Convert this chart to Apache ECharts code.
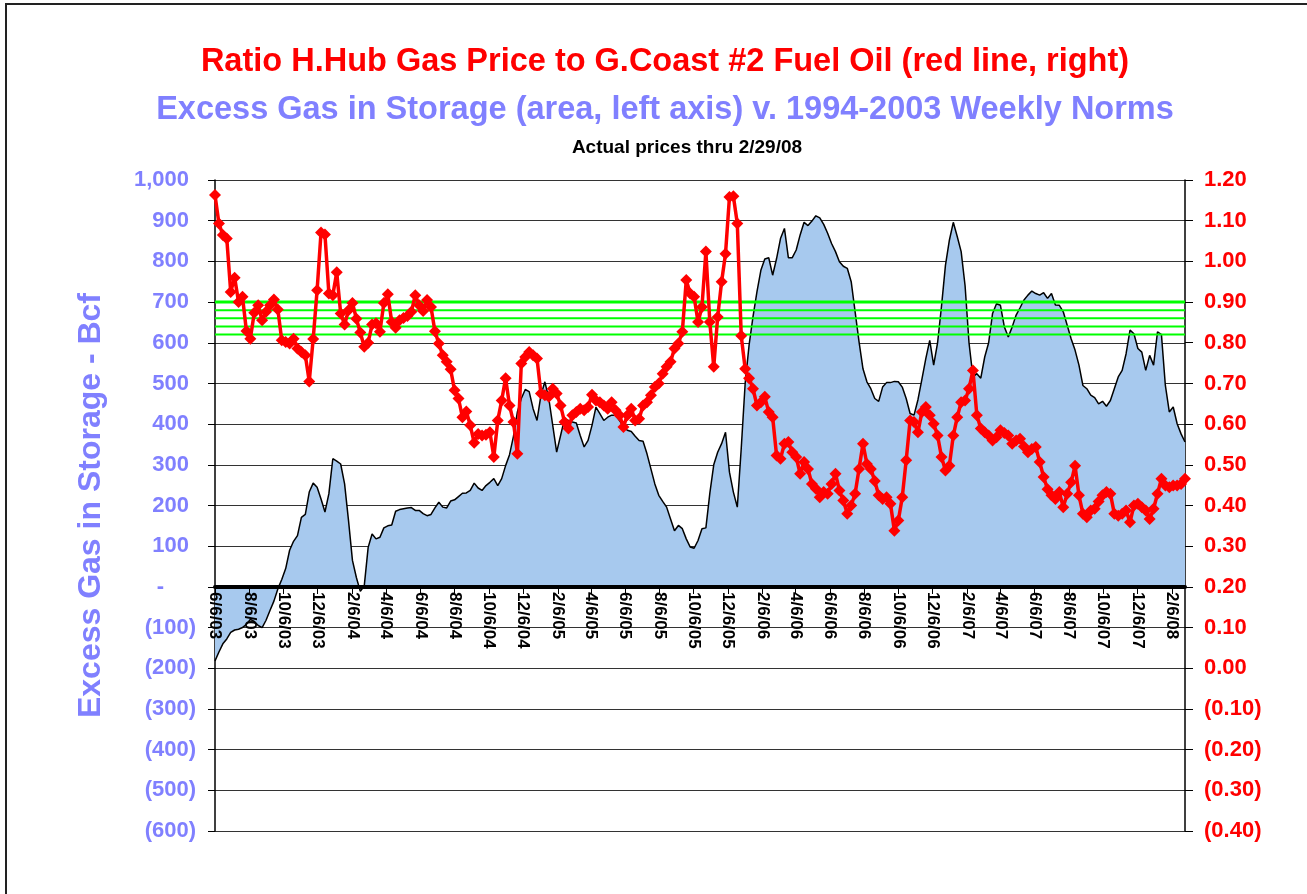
<!DOCTYPE html>
<html>
<head>
<meta charset="utf-8">
<title>Gas storage vs price ratio</title>
<script src="https://cdn.jsdelivr.net/npm/echarts@6.0.0/dist/echarts.min.js"></script>
<style>
  html, body { margin: 0; padding: 0; background: #fff; }
  #chart { width: 1307px; height: 894px; }
</style>
</head>
<body>
<div id="chart"></div>
<script>
// weekly data, first week 6/6/03, last week 2/29/08
const firstWeek = [2003, 5, 6];

// excess gas in storage vs 1994-2003 norms, Bcf (left axis)
const storage = [
  -182, -160, -140, -128, -112, -106, -104, -100, -92, -80,
  -85, -95, -100, -82, -58, -35, -5, 18, 45, 90,
  112, 126, 171, 178, 233, 255, 245, 216, 184, 229,
  315, 309, 302, 253, 163, 65, 23, -11, 2, 97,
  130, 118, 122, 145, 150, 152, 186, 190, 192, 194,
  195, 188, 188, 180, 175, 178, 194, 208, 196, 194,
  211, 214, 222, 230, 231, 237, 255, 243, 237, 249,
  257, 266, 249, 266, 298, 325, 370, 430, 463, 485,
  480, 438, 409, 471, 504, 463, 397, 331, 372, 413,
  409, 405, 403, 372, 344, 360, 397, 442, 426, 409,
  417, 422, 422, 409, 393, 385, 382, 370, 360, 358,
  327, 290, 253, 225, 210, 196, 167, 138, 151, 143,
  118, 98, 95, 114, 143, 145, 230, 300, 331, 352,
  380, 282, 233, 196, 340, 500, 594, 664, 725, 778,
  806, 809, 766, 807, 856, 881, 809, 809, 828, 865,
  896, 888, 899, 912, 907, 891, 869, 844, 824, 799,
  788, 783, 750, 676, 602, 536, 504, 487, 463, 456,
  491, 502, 502, 505, 504, 491, 463, 426, 422, 460,
  510, 561, 606, 545, 600, 690, 790, 852, 896, 861,
  824, 740, 600, 516, 524, 513, 565, 600, 672, 696,
  692, 639, 614, 639, 668, 686, 705, 717, 727, 721,
  717, 723, 709, 721, 693, 692, 676, 643, 610, 582,
  545, 495, 487, 471, 465, 450, 456, 444, 458, 487,
  516, 532, 573, 631, 622, 586, 577, 532, 569, 545,
  627, 620, 495, 430, 442, 401, 376, 356
];

// Henry Hub gas / Gulf Coast #2 fuel oil price ratio (right axis)
const ratio = [
  1.163, 1.093, 1.065, 1.056, 0.925, 0.960, 0.900, 0.913, 0.829, 0.810,
  0.874, 0.892, 0.855, 0.876, 0.892, 0.906, 0.882, 0.806, 0.802, 0.798,
  0.810, 0.786, 0.777, 0.769, 0.705, 0.809, 0.929, 1.071, 1.066, 0.921,
  0.917, 0.973, 0.872, 0.845, 0.880, 0.898, 0.859, 0.825, 0.790, 0.800,
  0.845, 0.848, 0.827, 0.898, 0.919, 0.851, 0.837, 0.855, 0.861, 0.866,
  0.876, 0.917, 0.892, 0.878, 0.905, 0.888, 0.828, 0.798, 0.769, 0.753,
  0.735, 0.683, 0.663, 0.617, 0.631, 0.597, 0.554, 0.576, 0.572, 0.574,
  0.580, 0.519, 0.609, 0.658, 0.713, 0.646, 0.605, 0.527, 0.749, 0.765,
  0.777, 0.769, 0.761, 0.675, 0.671, 0.667, 0.687, 0.675, 0.646, 0.605,
  0.589, 0.622, 0.630, 0.638, 0.634, 0.642, 0.672, 0.658, 0.654, 0.646,
  0.638, 0.654, 0.634, 0.622, 0.593, 0.622, 0.638, 0.609, 0.613, 0.646,
  0.654, 0.671, 0.691, 0.700, 0.724, 0.741, 0.753, 0.786, 0.798, 0.827,
  0.954, 0.921, 0.913, 0.851, 0.888, 1.024, 0.851, 0.741, 0.863, 0.950,
  1.019, 1.158, 1.160, 1.093, 0.817, 0.736, 0.713, 0.687, 0.646, 0.654,
  0.667, 0.630, 0.617, 0.523, 0.515, 0.552, 0.556, 0.531, 0.519, 0.478,
  0.507, 0.490, 0.453, 0.441, 0.420, 0.433, 0.429, 0.453, 0.478, 0.437,
  0.412, 0.380, 0.400, 0.429, 0.490, 0.552, 0.502, 0.490, 0.460, 0.425,
  0.416, 0.420, 0.404, 0.338, 0.363, 0.420, 0.511, 0.609, 0.605, 0.580,
  0.630, 0.642, 0.622, 0.601, 0.572, 0.519, 0.486, 0.498, 0.572, 0.617,
  0.654, 0.658, 0.687, 0.732, 0.622, 0.589, 0.580, 0.572, 0.560, 0.568,
  0.585, 0.578, 0.572, 0.552, 0.560, 0.564, 0.545, 0.531, 0.539, 0.544,
  0.507, 0.470, 0.440, 0.425, 0.416, 0.433, 0.396, 0.429, 0.457, 0.498,
  0.425, 0.380, 0.371, 0.388, 0.392, 0.410, 0.425, 0.433, 0.429, 0.380,
  0.375, 0.380, 0.388, 0.359, 0.400, 0.404, 0.396, 0.388, 0.367, 0.392,
  0.429, 0.466, 0.449, 0.445, 0.449, 0.449, 0.453, 0.466
];

// green reference band (left axis units)
const greenLevels = [700, 680, 660, 640, 620];

const tickLabels = [
  '6/6/03', '8/6/03', '10/6/03', '12/6/03', '2/6/04', '4/6/04', '6/6/04',
  '8/6/04', '10/6/04', '12/6/04', '2/6/05', '4/6/05', '6/6/05', '8/6/05',
  '10/6/05', '12/6/05', '2/6/06', '4/6/06', '6/6/06', '8/6/06', '10/6/06',
  '12/6/06', '2/6/07', '4/6/07', '6/6/07', '8/6/07', '10/6/07', '12/6/07',
  '2/6/08'
];

const FONT = "'Liberation Sans', Arial, sans-serif";
const BLUE_TXT = '#8080FF';
const DAY = 24 * 3600 * 1000;

// plot box, px
const gridTop = 180;
const gridBottom = 63;
const plotHeight = 894 - gridTop - gridBottom;
const leftMin = -600;
const leftMax = 1000;

// x is measured in weeks since the first data week
const t0 = new Date(firstWeek[0], firstWeek[1], firstWeek[2]).getTime();
const lastWeek = storage.length - 1;

const tickWeeks = tickLabels.map((s) => {
  const p = s.split('/');
  const t = new Date(2000 + Number(p[2]), Number(p[0]) - 1, Number(p[1])).getTime();
  return Math.round((t - t0) / DAY) / 7;
});

const leftLabel = (v) => {
  if (v === 0) return '{z|-}';
  if (v < 0) return '{n|(' + (-v).toLocaleString('en-US') + ')}';
  return '{p|' + v.toLocaleString('en-US') + '}';
};

const rightLabel = (v) => {
  const r = Math.round(v * 100) / 100;
  if (r < -0.001) return '(' + (-r).toFixed(2) + ')';
  return Math.abs(r).toFixed(2);
};

// the date axis sits on the zero line of the left axis
const zeroOffset = -Math.round(plotHeight * (0 - leftMin) / (leftMax - leftMin));

let greenSeries = greenLevels.map((lvl, i) => ({
  type: 'line',
  yAxisIndex: 0,
  data: [[0, lvl], [lastWeek, lvl]],
  symbol: 'none',
  silent: true,
  z: 3,
  lineStyle: { color: '#00FF00', width: i === 0 ? 3 : 2 }
}));

let myChart = echarts.init(document.getElementById('chart'), null, { renderer: 'canvas' });

let option = {
  animation: false,
  backgroundColor: '#fff',
  graphic: [
    {
      type: 'rect', silent: true,
      shape: { x: 6, y: 4, width: 1320, height: 910 },
      style: { fill: 'none', stroke: '#222', lineWidth: 2 }
    },
    {
      type: 'text', silent: true, x: 665, y: 62,
      style: {
        text: 'Ratio H.Hub Gas Price to G.Coast #2 Fuel Oil (red line, right)',
        x: 0, y: 0, textAlign: 'center', textVerticalAlign: 'middle',
        font: 'bold 32.5px ' + FONT, fill: '#FF0000'
      }
    },
    {
      type: 'text', silent: true, x: 665, y: 110,
      style: {
        text: 'Excess Gas in Storage (area, left axis) v. 1994-2003 Weekly Norms',
        x: 0, y: 0, textAlign: 'center', textVerticalAlign: 'middle',
        font: 'bold 32.5px ' + FONT, fill: BLUE_TXT
      }
    },
    {
      type: 'text', silent: true, x: 687, y: 148,
      style: {
        text: 'Actual prices thru 2/29/08',
        x: 0, y: 0, textAlign: 'center', textVerticalAlign: 'middle',
        font: 'bold 19px ' + FONT, fill: '#000'
      }
    }
  ],
  grid: { left: 215, right: 122, top: gridTop, bottom: gridBottom, containLabel: false },
  xAxis: {
    type: 'value',
    min: 0,
    max: lastWeek,
    offset: zeroOffset,
    z: 5,
    axisLine: { onZero: false, lineStyle: { color: '#000', width: 4 } },
    axisTick: { show: true, customValues: tickWeeks, length: 7, lineStyle: { color: '#000', width: 1 } },
    splitLine: { show: false },
    axisLabel: {
      customValues: tickWeeks,
      rotate: -90,
      margin: 5,
      showMinLabel: true,
      showMaxLabel: true,
      hideOverlap: false,
      color: '#000',
      fontFamily: FONT,
      fontWeight: 'bold',
      fontSize: 17,
      formatter: (v) => {
        const k = tickWeeks.findIndex((w) => Math.abs(w - v) < 0.01);
        return k >= 0 ? tickLabels[k] : '';
      }
    }
  },
  yAxis: [
    {
      type: 'value',
      min: leftMin,
      max: leftMax,
      interval: 100,
      name: 'Excess Gas in Storage - Bcf',
      nameLocation: 'middle',
      nameRotate: 90,
      nameGap: 108,
      nameTextStyle: { color: BLUE_TXT, fontFamily: FONT, fontWeight: 'bold', fontSize: 32 },
      axisLine: { show: true, onZero: false, lineStyle: { color: '#000', width: 1.5 } },
      axisTick: { show: true, length: 7, lineStyle: { color: '#000' } },
      splitLine: { show: true, lineStyle: { color: '#333', width: 1 } },
      axisLabel: {
        margin: 19,
        color: BLUE_TXT,
        fontFamily: FONT,
        fontWeight: 'bold',
        fontSize: 22,
        formatter: leftLabel,
        rich: {
          p: { padding: [0, 7, 0, 0] },
          z: { padding: [0, 32, 0, 0] },
          n: {}
        }
      }
    },
    {
      type: 'value',
      min: -0.4,
      max: 1.2,
      interval: 0.1,
      position: 'right',
      axisLine: { show: true, onZero: false, lineStyle: { color: '#000', width: 1.5 } },
      axisTick: { show: true, length: 8, lineStyle: { color: '#000' } },
      splitLine: { show: false },
      axisLabel: {
        margin: 19,
        color: '#FF0000',
        fontFamily: FONT,
        fontWeight: 'bold',
        fontSize: 22,
        formatter: rightLabel
      }
    }
  ],
  series: [
    {
      name: 'Excess Gas in Storage',
      type: 'line',
      yAxisIndex: 0,
      data: storage.map((v, i) => [i, v]),
      symbol: 'none',
      z: 2,
      lineStyle: { color: '#000', width: 1.5 },
      areaStyle: { color: '#A7C9EE', opacity: 1 }
    },
    ...greenSeries,
    {
      name: 'Price Ratio',
      type: 'line',
      yAxisIndex: 1,
      data: ratio.map((v, i) => [i, v]),
      symbol: 'diamond',
      symbolSize: 12,
      z: 4,
      itemStyle: { color: '#FF0000' },
      lineStyle: { color: '#FF0000', width: 3.5 }
    }
  ]
};

if (option && typeof option === 'object') {
  myChart.setOption(option);
}

window.addEventListener('resize', myChart.resize);
</script>
</body>
</html>
